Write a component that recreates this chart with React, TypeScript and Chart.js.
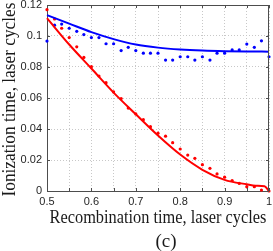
import React, { useEffect, useRef } from 'react';
import { Chart, registerables } from 'chart.js';

Chart.register(...registerables);

// ---- data ----
const dotX = [0.5, 0.517, 0.533, 0.55, 0.567, 0.583, 0.6, 0.617, 0.633, 0.65, 0.667, 0.683, 0.7, 0.717, 0.733, 0.75, 0.767, 0.783, 0.8, 0.817, 0.833, 0.85, 0.867, 0.883, 0.9, 0.917, 0.933, 0.95, 0.967, 0.983, 1.0];
const redDots = [0.117, 0.111, 0.105, 0.099, 0.093, 0.0862, 0.0802, 0.0742, 0.0699, 0.0639, 0.0596, 0.0535, 0.0497, 0.046, 0.0415, 0.0373, 0.0354, 0.0312, 0.0271, 0.0232, 0.0211, 0.017, 0.0146, 0.011, 0.0089, 0.0067, 0.0049, 0.0028, 0.0028, 0.0006, 0];
const blueDots = [0.0967, 0.107, 0.1077, 0.105, 0.103, 0.1009, 0.099, 0.099, 0.095, 0.095, 0.0906, 0.0927, 0.0906, 0.0889, 0.0889, 0.0889, 0.0845, 0.0845, 0.0866, 0.0866, 0.0845, 0.0866, 0.0845, 0.0889, 0.0889, 0.091, 0.091, 0.0948, 0.0927, 0.0969, 0.0866];

const blueLineX = [0.5, 0.55, 0.6, 0.65, 0.7, 0.75, 0.8, 0.85, 0.9, 0.95, 1.0];
const blueLine = [0.1135, 0.108, 0.1025, 0.098, 0.0945, 0.0925, 0.0913, 0.0906, 0.0902, 0.09, 0.0899];

const redLineX = [0.5, 0.55, 0.6, 0.65, 0.7, 0.75, 0.8, 0.85, 0.9, 0.95, 0.97, 0.99, 1.0];
const redLine = [0.1115, 0.0945, 0.079, 0.0635, 0.0495, 0.0358, 0.0235, 0.0137, 0.0072, 0.0043, 0.0034, 0.0031, 0];

const xTickValues = [0.5, 0.6, 0.7, 0.8, 0.9, 1.0];
const xTickLabels = ['0.5', '0.6', '0.7', '0.8', '0.9', '1'];
const yTickValues = [0, 0.02, 0.04, 0.06, 0.08, 0.1, 0.12];
const yTickLabels = ['0', '0.02', '0.04', '0.06', '0.08', '0.1', '0.12'];

const xTitle = 'Recombination time, laser cycles';
const yTitle = 'Ionization time, laser cycles';
const panelLabel = '(c)';

const pts = (xs: number[], ys: number[]) => xs.map((x, i) => ({ x, y: ys[i] }));
const labelFor = (vals: number[], labels: string[], v: number) => {
  const i = vals.findIndex((t) => Math.abs(t - v) < 1e-6);
  return i >= 0 ? labels[i] : '';
};

const AXIS = '#4d4d4d';

const boxPlugin = {
  id: 'boxAndTicks',
  afterDatasetsDraw(chart: any) {
    const { ctx, chartArea: a, scales } = chart;
    ctx.save();
    ctx.strokeStyle = AXIS;
    ctx.lineWidth = 1;
    ctx.beginPath();
    ctx.moveTo(a.left, a.top + 0.5);
    ctx.lineTo(a.right, a.top + 0.5);
    ctx.moveTo(a.right - 0.5, a.top);
    ctx.lineTo(a.right - 0.5, a.bottom);
    // inner tick marks
    for (let v = 0.5; v <= 1.0001; v += 0.05) {
      const px = Math.round(scales.x.getPixelForValue(v)) + 0.5;
      ctx.moveTo(px, a.bottom);
      ctx.lineTo(px, a.bottom - 3);
      ctx.moveTo(px, a.top);
      ctx.lineTo(px, a.top + 3);
    }
    for (const v of yTickValues) {
      const py = Math.round(scales.y.getPixelForValue(v)) + 0.5;
      ctx.moveTo(a.left, py);
      ctx.lineTo(a.left + 3, py);
      ctx.moveTo(a.right, py);
      ctx.lineTo(a.right - 3, py);
    }
    ctx.stroke();
    ctx.restore();
  },
};

const drawFitted = (ctx: CanvasRenderingContext2D, text: string, sx: number) => {
  ctx.save();
  ctx.scale(sx, 1);
  ctx.fillText(text, 0, 0);
  ctx.restore();
};

const titlePlugin = {
  id: 'serifTitles',
  afterDraw(chart: any) {
    const { ctx, chartArea: a } = chart;
    ctx.save();
    ctx.fillStyle = '#1a1a1a';
    ctx.textAlign = 'center';
    ctx.textBaseline = 'alphabetic';
    ctx.font = '19px "Liberation Serif", "DejaVu Serif", serif';
    // x-axis title
    ctx.save();
    ctx.translate((a.left + a.right) / 2, a.bottom + 32);
    drawFitted(ctx, xTitle, 0.86);
    ctx.restore();
    // y-axis title
    ctx.save();
    ctx.translate(a.left - 32, (a.top + a.bottom) / 2 + 1.5);
    ctx.rotate(-Math.PI / 2);
    drawFitted(ctx, yTitle, 0.91);
    ctx.restore();
    // panel label
    ctx.save();
    ctx.translate((a.left + a.right) / 2 + 8, a.bottom + 56);
    drawFitted(ctx, panelLabel, 1);
    ctx.restore();
    ctx.restore();
  },
};

export default function App() {
  const ref = useRef<HTMLCanvasElement | null>(null);

  useEffect(() => {
    if (!ref.current) return;
    const tickFont = { family: '"Liberation Sans", Arial, sans-serif', size: 11 };
    const chart = new Chart(ref.current, {
      type: 'scatter',
      data: {
        datasets: [
          {
            label: 'blue fit',
            data: pts(blueLineX, blueLine),
            showLine: true,
            borderColor: '#0000ff',
            borderWidth: 2,
            pointRadius: 0,
            cubicInterpolationMode: 'monotone',
            clip: false,
          } as any,
          {
            label: 'red fit',
            data: pts(redLineX, redLine),
            showLine: true,
            borderColor: '#ff0000',
            borderWidth: 2,
            pointRadius: 0,
            cubicInterpolationMode: 'monotone',
            clip: false,
          } as any,
          {
            label: 'blue',
            data: pts(dotX, blueDots),
            showLine: false,
            backgroundColor: '#0000ff',
            borderWidth: 0,
            pointRadius: 1.6,
            clip: false,
          } as any,
          {
            label: 'red',
            data: pts(dotX, redDots),
            showLine: false,
            backgroundColor: '#ff0000',
            borderWidth: 0,
            pointRadius: 1.6,
            clip: false,
          } as any,
        ],
      },
      options: {
        responsive: false,
        animation: false,
        events: [],
        layout: { padding: { top: 5, right: 2.5, left: 0, bottom: 0 } },
        plugins: { legend: { display: false }, tooltip: { enabled: false }, title: { display: false } },
        scales: {
          x: {
            type: 'linear',
            min: 0.5,
            max: 1,
            afterFit: (s: any) => {
              s.height = 60;
              s.paddingLeft = 0;
              s.paddingRight = 0;
            },
            afterBuildTicks: (s: any) => {
              const t = [];
              for (let v = 0.5; v <= 1.0001; v += 0.05) t.push({ value: Math.round(v * 100) / 100 });
              s.ticks = t;
            },
            ticks: {
              autoSkip: false,
              maxRotation: 0,
              padding: 4,
              color: '#262626',
              font: tickFont,
              callback: (v: any) => labelFor(xTickValues, xTickLabels, Number(v)),
            },
            grid: { color: '#c8c8c8', lineWidth: 1, drawTicks: false },
            border: { display: true, color: AXIS, width: 1, dash: [1, 2] },
          },
          y: {
            type: 'linear',
            min: 0,
            max: 0.12,
            afterFit: (s: any) => {
              s.width = 47;
              s.paddingTop = 0;
              s.paddingBottom = 0;
            },
            afterBuildTicks: (s: any) => {
              s.ticks = yTickValues.map((v) => ({ value: v }));
            },
            ticks: {
              autoSkip: false,
              padding: 5,
              color: '#262626',
              font: tickFont,
              callback: (v: any) => labelFor(yTickValues, yTickLabels, Number(v)),
            },
            grid: { color: '#c8c8c8', lineWidth: 1, drawTicks: false },
            border: { display: true, color: AXIS, width: 1, dash: [1, 2] },
          },
        },
      },
      plugins: [boxPlugin, titlePlugin],
    } as any);
    return () => chart.destroy();
  }, []);

  return (
    <div style={{ position: 'fixed', left: 0, top: 0, width: 273, height: 251, background: '#fff' }}>
      <canvas ref={ref} width={273} height={251} style={{ display: 'block', width: 273, height: 251 }} />
    </div>
  );
}
